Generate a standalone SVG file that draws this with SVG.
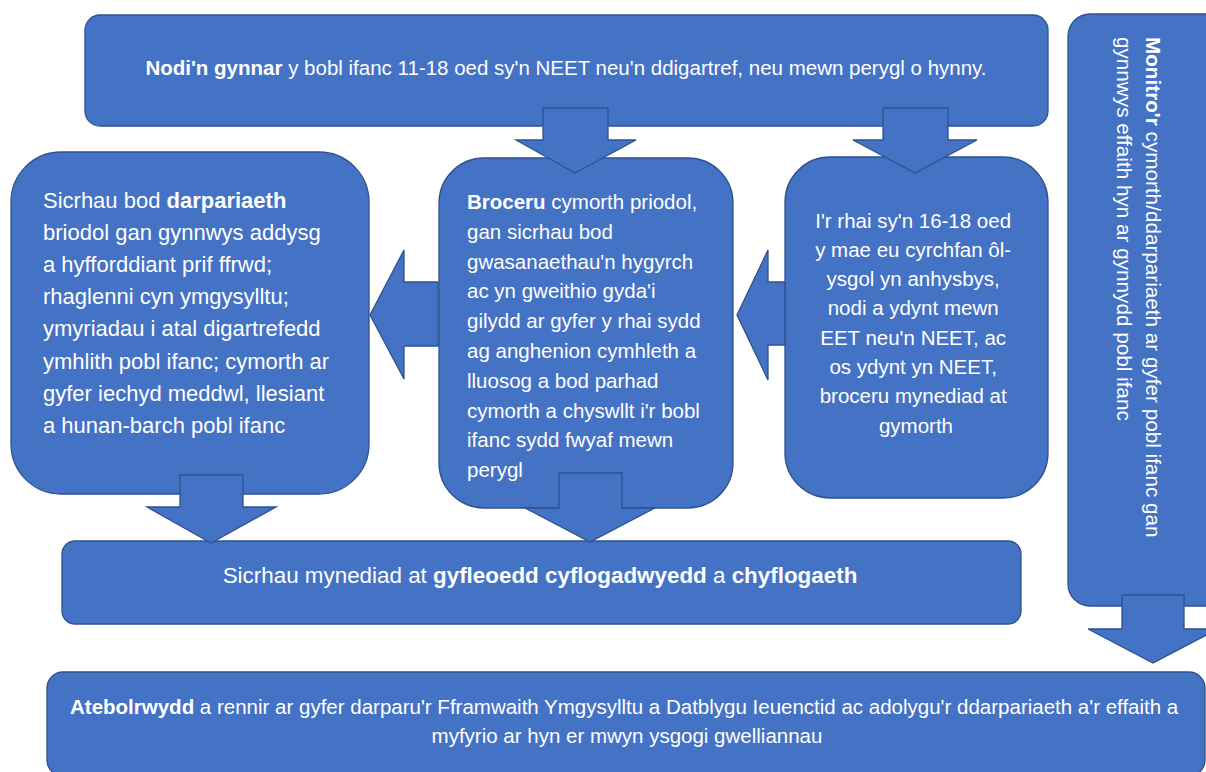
<svg xmlns="http://www.w3.org/2000/svg" width="1206" height="772" viewBox="0 0 1206 772">
<style>
.box{fill:#4472C4;stroke:#2F528F;stroke-width:1.3}
.arr{fill:#4472C4;stroke:#2F528F;stroke-width:1.3;stroke-linejoin:miter}
.t{font-family:"Liberation Sans",Arial,sans-serif;fill:#FFFFFF}
.b{font-weight:bold}
</style>
<rect width="1206" height="772" fill="#FFFFFF"/>
<g id="node-top">
<rect class="box" x="85" y="15" width="963" height="111" rx="15"/>
<text class="t" x="566" y="75" font-size="20.5" text-anchor="middle"><tspan class="b">Nodi'n gynnar</tspan> y bobl ifanc 11-18 oed sy'n NEET neu'n ddigartref, neu mewn perygl o hynny.</text>
</g>
<g id="node-left">
<rect class="box" x="11" y="152" width="358" height="342" rx="50"/>
<text class="t" font-size="22">
<tspan x="43" y="207.5">Sicrhau bod <tspan class="b">darpariaeth</tspan></tspan>
<tspan x="43" y="239.7">briodol gan gynnwys addysg</tspan>
<tspan x="43" y="271.9">a hyfforddiant prif ffrwd;</tspan>
<tspan x="43" y="304.1">rhaglenni cyn ymgysylltu;</tspan>
<tspan x="43" y="336.3">ymyriadau i atal digartrefedd</tspan>
<tspan x="43" y="368.5">ymhlith pobl ifanc; cymorth ar</tspan>
<tspan x="43" y="400.7">gyfer iechyd meddwl, llesiant</tspan>
<tspan x="43" y="432.9">a hunan-barch pobl ifanc</tspan>
</text>
</g>
<g id="node-middle">
<rect class="box" x="439" y="158" width="294" height="350" rx="45"/>
<text class="t" font-size="20.5">
<tspan x="467" y="209"><tspan class="b">Broceru</tspan> cymorth priodol,</tspan>
<tspan x="467" y="238.8">gan sicrhau bod</tspan>
<tspan x="467" y="268.6">gwasanaethau'n hygyrch</tspan>
<tspan x="467" y="298.4">ac yn gweithio gyda'i</tspan>
<tspan x="467" y="328.2">gilydd ar gyfer y rhai sydd</tspan>
<tspan x="467" y="358">ag anghenion cymhleth a</tspan>
<tspan x="467" y="387.8">lluosog a bod parhad</tspan>
<tspan x="467" y="417.6">cymorth a chyswllt i'r bobl</tspan>
<tspan x="467" y="447.4">ifanc sydd fwyaf mewn</tspan>
<tspan x="467" y="477.2">perygl</tspan>
</text>
</g>
<g id="node-right">
<rect class="box" x="785" y="157" width="263" height="341" rx="45"/>
<text class="t" font-size="20.5" text-anchor="middle">
<tspan x="916" y="227.5">I'r rhai sy'n 16-18 oed</tspan>
<tspan x="916" y="256.8">y mae eu cyrchfan ôl-</tspan>
<tspan x="916" y="286.1">ysgol yn anhysbys,</tspan>
<tspan x="916" y="315.4">nodi a ydynt mewn</tspan>
<tspan x="916" y="344.7">EET neu'n NEET, ac</tspan>
<tspan x="916" y="374">os ydynt yn NEET,</tspan>
<tspan x="916" y="403.3">broceru mynediad at</tspan>
<tspan x="916" y="432.6">gymorth</tspan>
</text>
</g>
<g id="node-monitor">
<rect class="box" x="1068" y="14" width="170" height="592" rx="22"/>
<text class="t" font-size="20.7" transform="translate(1146,37) rotate(90)">
<tspan x="0" y="0"><tspan class="b">Monitro'r</tspan> cymorth/ddarpariaeth ar gyfer pobl ifanc gan</tspan>
<tspan x="0" y="29">gynnwys effaith hyn ar gynnydd pobl ifanc</tspan>
</text>
</g>
<g id="node-employment">
<rect class="box" x="62" y="541" width="959" height="83" rx="13"/>
<text class="t" x="540" y="583" font-size="22.4" text-anchor="middle">Sicrhau mynediad at <tspan class="b">gyfleoedd cyflogadwyedd</tspan> a <tspan class="b">chyflogaeth</tspan></text>
</g>
<g id="node-accountability">
<rect class="box" x="47" y="672" width="1158" height="104" rx="16"/>
<text class="t" font-size="20.5" text-anchor="middle">
<tspan x="627" y="714"><tspan class="b">Atebolrwydd</tspan> a rennir ar gyfer darparu'r Fframwaith Ymgysylltu a Datblygu Ieuenctid ac adolygu'r ddarpariaeth a'r effaith a</tspan>
<tspan x="627" y="743">myfyrio ar hyn er mwyn ysgogi gwelliannau</tspan>
</text>
</g>
<g id="connectors">
<polygon class="arr" points="543,108 608,108 608,140 636,140 575,173 516,140 543,140"/>
<polygon class="arr" points="883,108 948,108 948,140 977,140 915,173 853,140 883,140"/>
<polygon class="arr" points="438,282 404,282 404,250 370,315 404,379 404,346 438,346"/>
<polygon class="arr" points="785,282 768,282 768,250 737,315 768,380 768,345 785,345"/>
<polygon class="arr" points="180,475 243,475 243,507 276,507 211,543 147,507 180,507"/>
<polygon class="arr" points="559,473 622,473 622,508 655,508 590,542 525,508 559,508"/>
<polygon class="arr" points="1122,595 1184,595 1184,629 1218,629 1153,663 1088,629 1122,629"/>
</g>
</svg>
